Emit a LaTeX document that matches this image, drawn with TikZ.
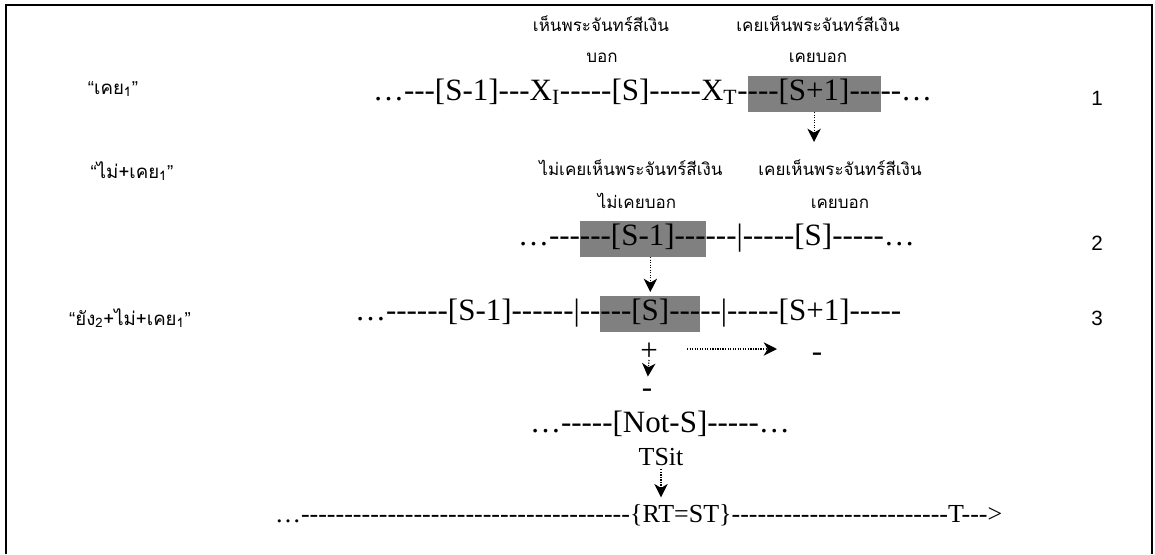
\documentclass[tikz,border=0pt]{standalone}
\usepackage{fontspec}
\usepackage{xcolor}
\usepackage{tikz}
\usetikzlibrary{arrows.meta,positioning}

\newfontfamily\seqfont[Ligatures=TeXOff]{Liberation Serif}
\newfontfamily\thaifont[Script=Thai]{Loma}
\newfontfamily\numfont{Liberation Sans}
\definecolor{boxgray}{HTML}{808080}

\newcommand{\seqsize}{\fontsize{23.25}{28}\selectfont}
\newcommand{\lowsize}{\fontsize{19.5}{24}\selectfont}
\newcommand{\opq}{{\numfont “}}
\newcommand{\clq}{{\numfont ”}}

\begin{document}
\begin{tikzpicture}[
  x=0.75pt, y=-0.75pt,
  >={Stealth[length=10pt,width=10pt,inset=3pt]},
  every node/.style={inner sep=0pt, outer sep=0pt},
  seq/.style={font=\seqfont\seqsize, anchor=base west},
  lowseq/.style={font=\seqfont\lowsize, anchor=base west},
  hl/.style={seq, fill=boxgray, text height=18pt, text depth=9pt},
  thai/.style={font=\thaifont\fontsize{12.75}{15}\selectfont, anchor=base},
  tag/.style={font=\thaifont\fontsize{14}{16}\selectfont, anchor=base},
  rowno/.style={font=\numfont\fontsize{15.5}{18}\selectfont, anchor=base},
  arrow/.style={->, densely dotted, line width=0.9pt}
]
\useasboundingbox (0,0) rectangle (1155,554);
\draw[line width=1.5pt] (6,554) -- (6,5) -- (1152,5) -- (1152,554);

% row 1
\node[tag] (tag1) at (113,94) {\opq เคย\textsubscript{1}\clq};
\node[thai] (lab1a) at (601,31) {เห็นพระจันทร์สีเงิน};
\node[thai] (lab1b) at (602,62) {บอก};
\node[thai] (lab1c) at (818,31) {เคยเห็นพระจันทร์สีเงิน};
\node[thai] (lab1d) at (818,62) {เคยบอก};
\node[seq] (r1a) at (373,100) {…---[S-1]---X\textsubscript{I}-----[S]-----X\textsubscript{T}-};
\node[hl, base right=0pt of r1a] (r1hl) {---[S+1]---};
\node[seq, base right=0pt of r1hl] (r1b) {--…};
\node[rowno] (n1) at (1097,105) {1};

% row 2
\node[tag] (tag2) at (132,178) {\opq ไม่+เคย\textsubscript{1}\clq};
\node[thai] (lab2a) at (631,175) {ไม่เคยเห็นพระจันทร์สีเงิน};
\node[thai] (lab2b) at (840,175) {เคยเห็นพระจันทร์สีเงิน};
\node[thai] (lab2c) at (637,208) {ไม่เคยบอก};
\node[thai] (lab2d) at (840,208) {เคยบอก};
\node[seq] (r2a) at (518,245) {…---};
\node[hl, base right=0pt of r2a] (r2hl) {---[S-1]---};
\node[seq, base right=0pt of r2hl] (r2b) {---|-----[S]-----…};
\node[rowno] (n2) at (1097,250) {2};

% row 3
\node[tag] (tag3) at (130,325) {\opq ยัง\textsubscript{2}+ไม่+เคย\textsubscript{1}\clq};
\node[seq] (r3a) at (355,320) {…------[S-1]------|--};
\node[hl, base right=0pt of r3a] (r3hl) {---[S]---};
\node[seq, base right=0pt of r3hl] (r3b) {--|-----[S+1]-----};
\node[rowno] (n3) at (1097,325) {3};

\node[seq, anchor=base] (plus) at (649,360) {+};
\node[seq, anchor=base] (neg1) at (647,397) {-};
\node[seq, anchor=base] (neg2) at (817,361) {-};
\coordinate (h1) at (687,349);
\coordinate (h2) at (777,349);

% bottom rows
\node[seq] (r4) at (530,432) {…-----[Not-S]-----…};
\node[lowseq, anchor=base] (tsit) at (661,465) {TSit};
\node[lowseq] (r5a) at (275,522) {…--------------------------------------};
\node[lowseq, base right=0pt of r5a] (rtst) {\{RT=ST\}};
\node[lowseq, base right=0pt of rtst] (r5b) {-------------------------T--->};

% dotted arrows
\coordinate (k1) at (816,142);
\draw[arrow] (r1hl.south) -- (r1hl.south |- k1);
\draw[arrow, shorten >=3pt] (r2hl.south -| r3hl.north) -- (r3hl.north);
\draw[arrow, shorten >=9pt] (plus.south) -- (neg1.north);
\draw[arrow] (h1) -- (h2);
\draw[arrow, shorten <=3pt, shorten >=5pt] (tsit.south) -- (tsit.south |- rtst.north);
\end{tikzpicture}
\end{document}
